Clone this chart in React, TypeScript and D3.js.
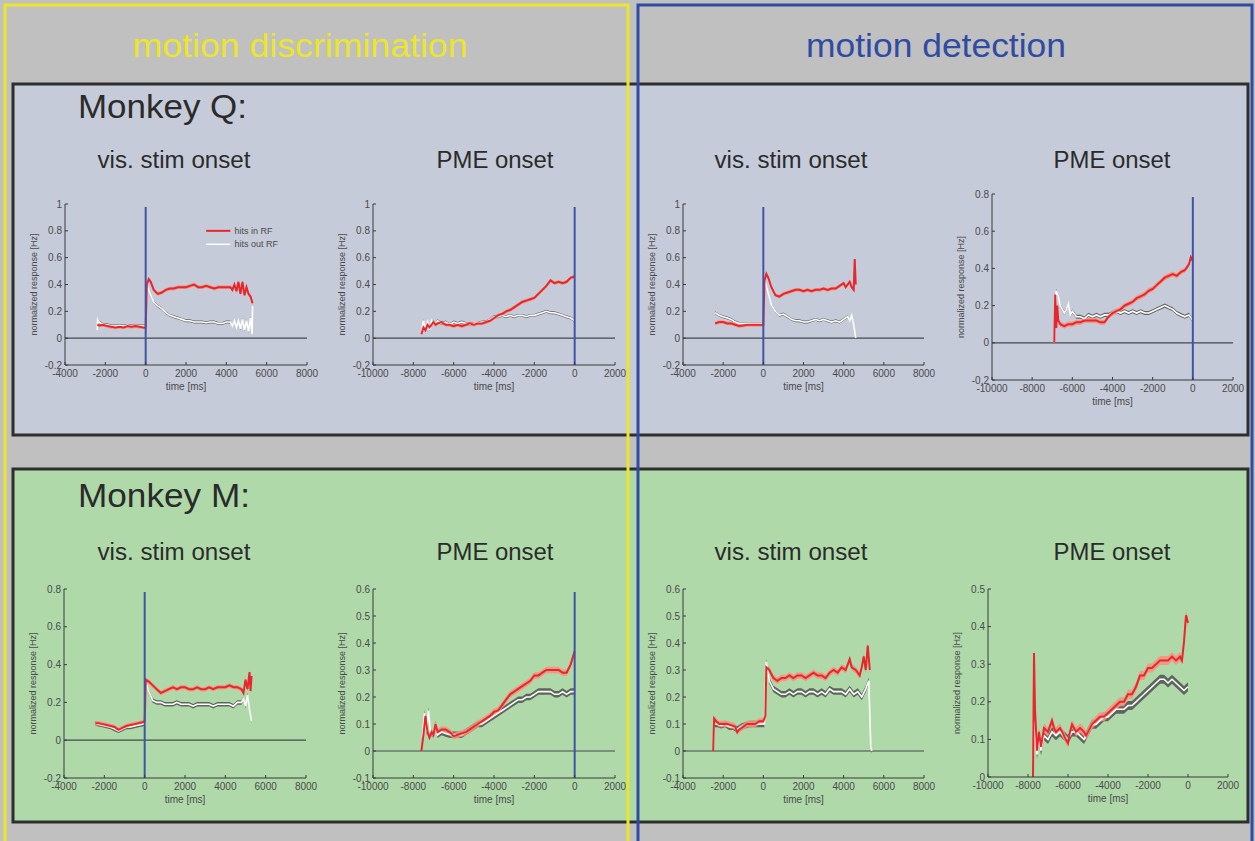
import React from "react";
import * as d3 from "d3";

type Pt = [number, number];

// ---------- tick labels ----------
const VIS_X_TICKS = [-4000, -2000, 0, 2000, 4000, 6000, 8000];
const PME_X_TICKS = [-10000, -8000, -6000, -4000, -2000, 0, 2000];
const Y_TICKS_1 = [-0.2, 0, 0.2, 0.4, 0.6, 0.8, 1];
const Y_TICKS_08 = [-0.2, 0, 0.2, 0.4, 0.6, 0.8];
const Y_TICKS_06 = [-0.1, 0, 0.1, 0.2, 0.3, 0.4, 0.5, 0.6];
const Y_TICKS_05 = [0, 0.1, 0.2, 0.3, 0.4, 0.5];

const COLUMN_TITLES = ["motion discrimination", "motion detection"];
const ROW_TITLES = ["Monkey Q:", "Monkey M:"];
const PANEL_TITLES = ["vis. stim onset", "PME onset"];
const LEGEND_LABELS = ["hits in RF", "hits out RF"];

// ---------- series (time [ms], normalized response) ----------
const Q_DISC_VIS_RED: Pt[] = [[-2400,0.10],[-2300,0.095],[-2100,0.10],[-1900,0.09],[-1700,0.085],[-1500,0.08],[-1300,0.085],[-1100,0.08],[-900,0.09],[-700,0.085],[-500,0.09],[-300,0.085],[-100,0.08],[0,0.08],[60,0.40],[150,0.44],[250,0.42],[400,0.36],[600,0.33],[800,0.34],[1000,0.36],[1200,0.37],[1400,0.37],[1600,0.38],[1800,0.38],[2000,0.38],[2200,0.39],[2400,0.40],[2600,0.38],[2800,0.38],[3000,0.39],[3200,0.38],[3400,0.37],[3600,0.38],[3800,0.38],[4000,0.38],[4200,0.38],[4300,0.36],[4400,0.40],[4500,0.35],[4600,0.42],[4700,0.33],[4800,0.42],[4900,0.32],[5000,0.38],[5100,0.33],[5200,0.31],[5300,0.26]];
const Q_DISC_VIS_WHITE: Pt[] = [[-2400,0.06],[-2380,0.14],[-2300,0.12],[-2100,0.10],[-1900,0.10],[-1700,0.09],[-1500,0.09],[-1300,0.095],[-1100,0.09],[-900,0.095],[-700,0.09],[-500,0.09],[-300,0.09],[-100,0.09],[0,0.09],[60,0.40],[200,0.34],[400,0.27],[600,0.24],[800,0.22],[1000,0.19],[1200,0.17],[1400,0.16],[1600,0.15],[1800,0.14],[2000,0.13],[2200,0.13],[2400,0.12],[2600,0.12],[2800,0.12],[3000,0.115],[3200,0.12],[3400,0.12],[3600,0.11],[3800,0.11],[4000,0.12],[4200,0.12],[4300,0.09],[4400,0.13],[4500,0.08],[4600,0.13],[4700,0.07],[4800,0.14],[4900,0.06],[5000,0.13],[5100,0.05],[5200,0.15],[5280,0.03],[5300,0.24]];

const Q_DISC_PME_RED: Pt[] = [[-7600,0.03],[-7500,0.08],[-7400,0.06],[-7300,0.10],[-7200,0.08],[-7000,0.12],[-6900,0.10],[-6800,0.11],[-6600,0.12],[-6400,0.10],[-6200,0.10],[-6000,0.09],[-5800,0.10],[-5600,0.09],[-5400,0.10],[-5200,0.11],[-5000,0.10],[-4800,0.11],[-4600,0.11],[-4400,0.12],[-4200,0.13],[-4000,0.15],[-3800,0.17],[-3600,0.18],[-3400,0.20],[-3200,0.21],[-3000,0.23],[-2800,0.25],[-2600,0.27],[-2400,0.28],[-2200,0.29],[-2000,0.30],[-1800,0.33],[-1600,0.36],[-1400,0.39],[-1200,0.43],[-1000,0.41],[-800,0.42],[-600,0.41],[-400,0.42],[-200,0.45],[0,0.46]];
const Q_DISC_PME_WHITE: Pt[] = [[-7600,0.04],[-7500,0.13],[-7400,0.07],[-7300,0.12],[-7200,0.06],[-7100,0.13],[-7000,0.10],[-6800,0.13],[-6600,0.11],[-6400,0.12],[-6200,0.10],[-6000,0.12],[-5800,0.11],[-5600,0.12],[-5400,0.11],[-5200,0.10],[-5000,0.11],[-4800,0.11],[-4600,0.12],[-4400,0.12],[-4200,0.14],[-4000,0.16],[-3800,0.16],[-3600,0.17],[-3400,0.16],[-3200,0.17],[-3000,0.16],[-2800,0.17],[-2600,0.17],[-2400,0.16],[-2200,0.17],[-2000,0.17],[-1800,0.18],[-1600,0.19],[-1400,0.20],[-1200,0.19],[-1000,0.19],[-800,0.18],[-600,0.17],[-400,0.16],[-200,0.15],[0,0.13]];

const Q_DET_VIS_RED: Pt[] = [[-2400,0.11],[-2200,0.12],[-2000,0.12],[-1800,0.11],[-1600,0.11],[-1400,0.10],[-1200,0.09],[-1000,0.095],[-800,0.10],[-600,0.10],[-400,0.10],[-200,0.10],[0,0.10],[60,0.43],[150,0.48],[250,0.45],[400,0.38],[600,0.32],[800,0.31],[1000,0.33],[1200,0.34],[1400,0.35],[1600,0.36],[1800,0.36],[2000,0.35],[2200,0.36],[2400,0.35],[2600,0.36],[2800,0.36],[3000,0.37],[3200,0.36],[3400,0.37],[3600,0.37],[3800,0.39],[4000,0.41],[4100,0.38],[4200,0.40],[4300,0.42],[4400,0.38],[4500,0.36],[4550,0.59],[4600,0.40]];
const Q_DET_VIS_WHITE: Pt[] = [[-2400,0.19],[-2300,0.18],[-2200,0.17],[-2000,0.16],[-1800,0.15],[-1600,0.14],[-1400,0.12],[-1200,0.11],[-1000,0.11],[-800,0.11],[-600,0.11],[-400,0.11],[-200,0.11],[0,0.11],[60,0.44],[200,0.36],[400,0.25],[600,0.20],[800,0.17],[1000,0.18],[1200,0.16],[1400,0.14],[1600,0.13],[1800,0.13],[2000,0.12],[2200,0.12],[2400,0.13],[2600,0.14],[2800,0.13],[3000,0.14],[3200,0.13],[3400,0.12],[3600,0.13],[3800,0.12],[4000,0.14],[4200,0.16],[4300,0.13],[4400,0.17],[4500,0.10],[4550,0.05],[4600,0.0]];

const Q_DET_PME_RED: Pt[] = [[-6900,0.0],[-6850,0.26],[-6800,0.08],[-6750,0.20],[-6700,0.12],[-6600,0.10],[-6400,0.09],[-6200,0.10],[-6000,0.10],[-5800,0.11],[-5600,0.11],[-5400,0.12],[-5200,0.12],[-5000,0.12],[-4800,0.12],[-4600,0.11],[-4400,0.11],[-4200,0.14],[-4000,0.16],[-3800,0.17],[-3600,0.18],[-3400,0.20],[-3200,0.21],[-3000,0.22],[-2800,0.24],[-2600,0.25],[-2400,0.26],[-2200,0.28],[-2000,0.29],[-1800,0.31],[-1600,0.33],[-1400,0.35],[-1200,0.36],[-1000,0.37],[-800,0.36],[-600,0.38],[-400,0.39],[-200,0.42],[-100,0.46],[0,0.44]];
const Q_DET_PME_WHITE: Pt[] = [[-6900,0.0],[-6800,0.28],[-6700,0.25],[-6600,0.20],[-6500,0.18],[-6400,0.16],[-6300,0.18],[-6200,0.21],[-6100,0.15],[-6000,0.17],[-5800,0.14],[-5600,0.14],[-5400,0.13],[-5200,0.15],[-5000,0.14],[-4800,0.15],[-4600,0.14],[-4400,0.15],[-4200,0.15],[-4000,0.16],[-3800,0.17],[-3600,0.16],[-3400,0.17],[-3200,0.16],[-3000,0.17],[-2800,0.16],[-2600,0.17],[-2400,0.16],[-2200,0.16],[-2000,0.17],[-1800,0.18],[-1600,0.19],[-1400,0.20],[-1200,0.19],[-1000,0.18],[-800,0.16],[-600,0.15],[-400,0.14],[-200,0.15],[0,0.12]];

const M_DISC_VIS_RED: Pt[] = [[-2450,0.09],[-2300,0.09],[-2100,0.085],[-1900,0.08],[-1700,0.075],[-1500,0.07],[-1300,0.055],[-1100,0.065],[-900,0.075],[-700,0.08],[-500,0.085],[-300,0.09],[-100,0.095],[0,0.10],[60,0.32],[200,0.31],[400,0.29],[600,0.27],[800,0.25],[1000,0.26],[1200,0.27],[1400,0.28],[1600,0.27],[1800,0.28],[2000,0.28],[2200,0.27],[2400,0.27],[2600,0.28],[2800,0.27],[3000,0.27],[3200,0.28],[3400,0.27],[3600,0.28],[3800,0.28],[4000,0.28],[4200,0.29],[4400,0.28],[4600,0.28],[4800,0.27],[4900,0.25],[5000,0.32],[5100,0.27],[5200,0.36],[5250,0.26],[5300,0.34]];
const M_DISC_VIS_WHITE: Pt[] = [[-2450,0.09],[-2300,0.085],[-2100,0.08],[-1900,0.075],[-1700,0.07],[-1500,0.06],[-1300,0.05],[-1100,0.06],[-900,0.07],[-700,0.07],[-500,0.075],[-300,0.08],[-100,0.085],[0,0.09],[60,0.31],[200,0.26],[400,0.21],[600,0.20],[800,0.20],[1000,0.19],[1200,0.19],[1400,0.19],[1600,0.20],[1800,0.19],[2000,0.19],[2200,0.19],[2400,0.18],[2600,0.19],[2800,0.19],[3000,0.19],[3200,0.19],[3400,0.18],[3600,0.19],[3800,0.19],[4000,0.19],[4200,0.19],[4400,0.18],[4600,0.20],[4800,0.20],[4900,0.22],[5000,0.18],[5100,0.24],[5200,0.16],[5300,0.10]];

const M_DISC_PME_RED: Pt[] = [[-7600,0.0],[-7500,0.06],[-7400,0.13],[-7300,0.07],[-7200,0.05],[-7100,0.07],[-7000,0.06],[-6900,0.10],[-6800,0.07],[-6600,0.08],[-6400,0.08],[-6200,0.07],[-6000,0.055],[-5800,0.06],[-5600,0.065],[-5400,0.07],[-5200,0.08],[-5000,0.09],[-4800,0.10],[-4600,0.11],[-4400,0.12],[-4200,0.13],[-4000,0.145],[-3800,0.15],[-3600,0.17],[-3400,0.19],[-3200,0.21],[-3000,0.22],[-2800,0.23],[-2600,0.24],[-2400,0.25],[-2200,0.26],[-2000,0.28],[-1800,0.28],[-1600,0.29],[-1400,0.30],[-1200,0.30],[-1000,0.30],[-800,0.30],[-600,0.29],[-400,0.29],[-200,0.32],[0,0.37]];
const M_DISC_PME_WHITE: Pt[] = [[-7550,0.05],[-7450,0.14],[-7350,0.07],[-7250,0.15],[-7150,0.07],[-7000,0.06],[-6900,0.10],[-6800,0.06],[-6600,0.07],[-6400,0.065],[-6200,0.06],[-6000,0.06],[-5800,0.06],[-5600,0.06],[-5400,0.07],[-5200,0.08],[-5000,0.09],[-4800,0.10],[-4600,0.10],[-4400,0.11],[-4200,0.12],[-4000,0.13],[-3800,0.14],[-3600,0.15],[-3400,0.16],[-3200,0.17],[-3000,0.18],[-2800,0.19],[-2600,0.19],[-2400,0.20],[-2200,0.20],[-2000,0.21],[-1800,0.22],[-1600,0.22],[-1400,0.22],[-1200,0.22],[-1000,0.21],[-800,0.21],[-600,0.22],[-400,0.21],[-200,0.22],[0,0.22]];

const M_DET_VIS_RED: Pt[] = [[-2500,0.0],[-2450,0.12],[-2350,0.11],[-2200,0.10],[-2000,0.10],[-1800,0.10],[-1600,0.095],[-1400,0.09],[-1300,0.07],[-1200,0.08],[-1000,0.09],[-800,0.10],[-600,0.10],[-400,0.10],[-200,0.11],[0,0.11],[100,0.13],[150,0.31],[300,0.30],[500,0.27],[700,0.26],[900,0.27],[1100,0.27],[1300,0.28],[1500,0.27],[1700,0.28],[1900,0.28],[2100,0.27],[2300,0.28],[2500,0.29],[2700,0.28],[2900,0.28],[3100,0.27],[3300,0.29],[3500,0.30],[3700,0.29],[3900,0.31],[4100,0.30],[4300,0.34],[4400,0.31],[4600,0.30],[4800,0.28],[4900,0.31],[5000,0.35],[5100,0.30],[5200,0.39],[5300,0.30]];
const M_DET_VIS_WHITE: Pt[] = [[-2500,0.0],[-2450,0.10],[-2300,0.10],[-2100,0.095],[-1900,0.10],[-1700,0.09],[-1500,0.09],[-1300,0.08],[-1100,0.09],[-900,0.095],[-700,0.10],[-500,0.10],[-300,0.10],[-100,0.10],[50,0.10],[150,0.33],[300,0.26],[500,0.23],[700,0.22],[900,0.21],[1100,0.21],[1300,0.22],[1500,0.21],[1700,0.22],[1900,0.22],[2100,0.21],[2300,0.22],[2500,0.22],[2700,0.21],[2900,0.22],[3100,0.21],[3300,0.23],[3500,0.22],[3700,0.22],[3900,0.22],[4100,0.21],[4300,0.23],[4500,0.21],[4700,0.22],[4900,0.20],[5100,0.23],[5250,0.26],[5350,0.02],[5400,0.0]];

const M_DET_PME_RED: Pt[] = [[-7750,0.0],[-7700,0.33],[-7650,0.18],[-7550,0.07],[-7450,0.12],[-7350,0.08],[-7200,0.13],[-7000,0.12],[-6800,0.15],[-6700,0.13],[-6600,0.12],[-6400,0.13],[-6200,0.11],[-6000,0.09],[-5900,0.12],[-5800,0.14],[-5600,0.12],[-5400,0.13],[-5200,0.12],[-5100,0.11],[-5000,0.12],[-4800,0.14],[-4600,0.15],[-4400,0.16],[-4200,0.16],[-4000,0.17],[-3800,0.18],[-3600,0.19],[-3400,0.20],[-3200,0.20],[-3000,0.22],[-2800,0.22],[-2600,0.24],[-2400,0.27],[-2200,0.27],[-2000,0.29],[-1800,0.29],[-1600,0.30],[-1400,0.31],[-1200,0.31],[-1000,0.31],[-800,0.32],[-600,0.31],[-400,0.32],[-300,0.31],[-200,0.36],[-100,0.43],[0,0.41]];
const M_DET_PME_WHITE: Pt[] = [[-7750,0.0],[-7700,0.24],[-7650,0.12],[-7550,0.06],[-7450,0.10],[-7350,0.07],[-7200,0.11],[-7000,0.10],[-6800,0.12],[-6600,0.11],[-6400,0.12],[-6200,0.11],[-6000,0.10],[-5800,0.12],[-5600,0.12],[-5400,0.11],[-5200,0.10],[-5000,0.12],[-4800,0.14],[-4600,0.14],[-4400,0.15],[-4200,0.16],[-4000,0.16],[-3800,0.17],[-3600,0.18],[-3400,0.18],[-3200,0.18],[-3000,0.19],[-2800,0.19],[-2600,0.20],[-2400,0.21],[-2200,0.22],[-2000,0.23],[-1800,0.24],[-1600,0.25],[-1400,0.26],[-1200,0.26],[-1000,0.25],[-800,0.26],[-600,0.25],[-400,0.24],[-200,0.23],[0,0.24]];

// standard-error half widths (per panel: red, white)
const SEM_Q = [0.014, 0.011];
const SEM_M = [0.012, 0.012];

// ---------- layout ----------
const W = 1255;
const H = 841;
const FONT = "'Liberation Sans', Arial, sans-serif";

interface PanelCfg {
  left: number; right: number; top: number; bottom: number;
  xDomain: [number, number]; yDomain: [number, number];
  xTicks: number[]; yTicks: number[];
  red: Pt[]; white: Pt[]; sem: number[];
  onset: boolean; legend?: boolean; zeroLine: boolean;
}

const PANELS: PanelCfg[] = [
  { left: 65, right: 307, top: 204, bottom: 365, xDomain: [-4000, 8000], yDomain: [-0.2, 1], xTicks: VIS_X_TICKS, yTicks: Y_TICKS_1, red: Q_DISC_VIS_RED, white: Q_DISC_VIS_WHITE, sem: SEM_Q, onset: true, legend: true, zeroLine: true },
  { left: 373, right: 615, top: 204, bottom: 365, xDomain: [-10000, 2000], yDomain: [-0.2, 1], xTicks: PME_X_TICKS, yTicks: Y_TICKS_1, red: Q_DISC_PME_RED, white: Q_DISC_PME_WHITE, sem: SEM_Q, onset: true, zeroLine: true },
  { left: 683, right: 924, top: 204, bottom: 365, xDomain: [-4000, 8000], yDomain: [-0.2, 1], xTicks: VIS_X_TICKS, yTicks: Y_TICKS_1, red: Q_DET_VIS_RED, white: Q_DET_VIS_WHITE, sem: SEM_Q, onset: true, zeroLine: true },
  { left: 992, right: 1233, top: 194, bottom: 380, xDomain: [-10000, 2000], yDomain: [-0.2, 0.8], xTicks: PME_X_TICKS, yTicks: Y_TICKS_08, red: Q_DET_PME_RED, white: Q_DET_PME_WHITE, sem: SEM_Q, onset: true, zeroLine: true },
  { left: 64, right: 306, top: 589, bottom: 778, xDomain: [-4000, 8000], yDomain: [-0.2, 0.8], xTicks: VIS_X_TICKS, yTicks: Y_TICKS_08, red: M_DISC_VIS_RED, white: M_DISC_VIS_WHITE, sem: SEM_M, onset: true, zeroLine: true },
  { left: 373, right: 615, top: 589, bottom: 778, xDomain: [-10000, 2000], yDomain: [-0.1, 0.6], xTicks: PME_X_TICKS, yTicks: Y_TICKS_06, red: M_DISC_PME_RED, white: M_DISC_PME_WHITE, sem: SEM_M, onset: true, zeroLine: true },
  { left: 683, right: 924, top: 589, bottom: 778, xDomain: [-4000, 8000], yDomain: [-0.1, 0.6], xTicks: VIS_X_TICKS, yTicks: Y_TICKS_06, red: M_DET_VIS_RED, white: M_DET_VIS_WHITE, sem: SEM_M, onset: false, zeroLine: true },
  { left: 988, right: 1228, top: 589, bottom: 777, xDomain: [-10000, 2000], yDomain: [0, 0.5], xTicks: PME_X_TICKS, yTicks: Y_TICKS_05, red: M_DET_PME_RED, white: M_DET_PME_WHITE, sem: SEM_M, onset: false, zeroLine: false },
];

const AXIS = "#3a3a3a";
const TXT = "#4a4a4a";

function Panel({ cfg }: { cfg: PanelCfg }) {
  const x = d3.scaleLinear().domain(cfg.xDomain).range([cfg.left, cfg.right]);
  const y = d3.scaleLinear().domain(cfg.yDomain).range([cfg.bottom, cfg.top]);
  const line = d3.line<Pt>().x((d) => x(d[0])).y((d) => y(d[1]));
  const band = (s: number) =>
    d3.area<Pt>().x((d) => x(d[0])).y0((d) => y(d[1] - s)).y1((d) => y(d[1] + s));
  const cx = (cfg.left + cfg.right) / 2;
  const cy = (cfg.top + cfg.bottom) / 2;
  return (
    <g>
      {cfg.zeroLine && (
        <line x1={cfg.left} x2={cfg.right} y1={y(0)} y2={y(0)} stroke="#44484f" strokeWidth={1.2} />
      )}
      <path d={band(cfg.sem[1])(cfg.white) || ""} fill="#505050" opacity={0.85} />
      <path d={band(cfg.sem[0])(cfg.red) || ""} fill="#f3937f" opacity={0.9} />
      <path d={line(cfg.white) || ""} fill="none" stroke="#ffffff" strokeWidth={1.6} />
      <path d={line(cfg.red) || ""} fill="none" stroke="#e8262b" strokeWidth={2} />
      {cfg.onset && (
        <line x1={x(0)} x2={x(0)} y1={cfg.top + 3} y2={cfg.bottom} stroke="#3e55a6" strokeWidth={2} />
      )}
      {/* axes */}
      <line x1={cfg.left} x2={cfg.left} y1={cfg.top} y2={cfg.bottom} stroke={AXIS} strokeWidth={1} />
      <line x1={cfg.left} x2={cfg.right} y1={cfg.bottom} y2={cfg.bottom} stroke={AXIS} strokeWidth={1} />
      {cfg.yTicks.map((t) => (
        <g key={"y" + t}>
          <line x1={cfg.left} x2={cfg.left + 3} y1={y(t)} y2={y(t)} stroke={AXIS} />
          <text x={cfg.left - 3} y={y(t) + 3.5} textAnchor="end" fontSize={10} fill={TXT} fontFamily={FONT}>
            {String(t)}
          </text>
        </g>
      ))}
      {cfg.xTicks.map((t) => (
        <g key={"x" + t}>
          <line x1={x(t)} x2={x(t)} y1={cfg.bottom} y2={cfg.bottom - 3} stroke={AXIS} />
          <text x={x(t)} y={cfg.bottom + 12} textAnchor="middle" fontSize={10} fill={TXT} fontFamily={FONT}>
            {String(t)}
          </text>
        </g>
      ))}
      <text x={cx} y={cfg.bottom + 25} textAnchor="middle" fontSize={10} fill={TXT} fontFamily={FONT}>
        time [ms]
      </text>
      <text
        transform={`translate(${cfg.left - 28},${cy}) rotate(-90)`}
        textAnchor="middle"
        fontSize={9}
        fill={TXT}
        fontFamily={FONT}
      >
        normalized response [Hz]
      </text>
      {cfg.legend && (
        <g>
          <line x1={x(3000)} x2={x(4200)} y1={y(0.8)} y2={y(0.8)} stroke="#e8262b" strokeWidth={2} />
          <line x1={x(3000)} x2={x(4200)} y1={y(0.7)} y2={y(0.7)} stroke="#ffffff" strokeWidth={1.4} />
          <text x={x(4400)} y={y(0.8) + 3} fontSize={9} fill={TXT} fontFamily={FONT}>{LEGEND_LABELS[0]}</text>
          <text x={x(4400)} y={y(0.7) + 3} fontSize={9} fill={TXT} fontFamily={FONT}>{LEGEND_LABELS[1]}</text>
        </g>
      )}
    </g>
  );
}

export default function App() {
  const panelTitleX = [174, 495, 791, 1112];
  const panelTitleW = [153, 117, 153, 117];
  return (
    <svg width={W} height={H} style={{ position: "absolute", left: 0, top: 0 }} fontFamily={FONT}>
      <rect x={0} y={0} width={W} height={H} fill="#c0c0c0" />
      {/* row boxes */}
      <rect x={13} y={84} width={1235} height={351} fill="#c6cbd9" stroke="#2e2e2e" strokeWidth={3} />
      <rect x={13} y={469} width={1235} height={353} fill="#b0d9aa" stroke="#2e2e2e" strokeWidth={3} />
      {/* column titles */}
      <text x={300} y={57} textAnchor="middle" fontSize={34} fill="#ece62a" textLength={335} lengthAdjust="spacingAndGlyphs">
        {COLUMN_TITLES[0]}
      </text>
      <text x={936} y={57} textAnchor="middle" fontSize={34} fill="#2f4ba3" textLength={260} lengthAdjust="spacingAndGlyphs">
        {COLUMN_TITLES[1]}
      </text>
      {/* row titles */}
      <text x={78} y={118} fontSize={34} fill="#2b2b2b" textLength={169} lengthAdjust="spacingAndGlyphs">{ROW_TITLES[0]}</text>
      <text x={78} y={507} fontSize={34} fill="#2b2b2b" textLength={172} lengthAdjust="spacingAndGlyphs">{ROW_TITLES[1]}</text>
      {/* panel titles */}
      {panelTitleX.map((px, i) => (
        <g key={"pt" + i}>
          <text x={px} y={168} textAnchor="middle" fontSize={23} fill="#2b2b2b" textLength={panelTitleW[i]} lengthAdjust="spacingAndGlyphs">{PANEL_TITLES[i % 2]}</text>
          <text x={px} y={560} textAnchor="middle" fontSize={23} fill="#2b2b2b" textLength={panelTitleW[i]} lengthAdjust="spacingAndGlyphs">{PANEL_TITLES[i % 2]}</text>
        </g>
      ))}
      {PANELS.map((p, i) => (
        <Panel key={i} cfg={p} />
      ))}
      {/* column frames */}
      <rect x={5} y={5} width={623} height={H} fill="none" stroke="#ece62a" strokeWidth={3} />
      <rect x={638} y={5} width={614} height={H} fill="none" stroke="#2f4ba3" strokeWidth={3} />
    </svg>
  );
}
